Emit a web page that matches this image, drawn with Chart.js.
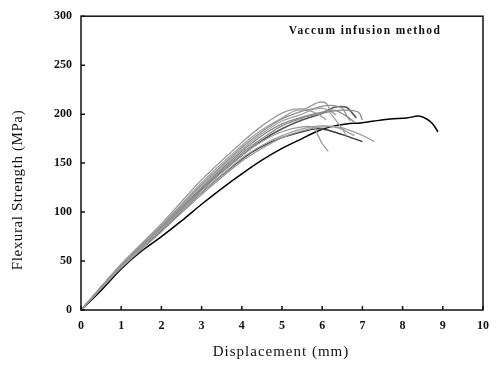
<!DOCTYPE html>
<html>
<head>
<meta charset="utf-8">
<script src="https://cdn.jsdelivr.net/npm/chart.js@4"></script>
<style>
  html, body { margin: 0; padding: 0; background: #fff; }
  #wrap { width: 498px; height: 366px; }
</style>
</head>
<body>
<div id="wrap"><canvas id="flexChart" width="498" height="366"></canvas></div>
<script>
// tick labels
const xTicks = [0, 1, 2, 3, 4, 5, 6, 7, 8, 9, 10];
const yTicks = [0, 50, 100, 150, 200, 250, 300];

// specimen curves: [displacement mm, strength MPa]
const specBlack = [[0,0],[0.5,20],[1,42],[1.5,60],[2,75],[2.5,91],[3,108],[3.5,124],[4,139],[4.5,153],[5,165],[5.5,175],[5.85,182],[6.2,187],[6.6,190],[6.95,191],[7.3,193],[7.7,195],[8.1,196],[8.4,198],[8.6,195],[8.75,190],[8.88,182]];
const specDark1 = [[0,0],[1,45],[2,82],[3,123],[4,158],[4.5,173],[5,185],[5.5,194],[6,201],[6.3,207],[6.6,207],[6.75,201],[6.85,196]];
const specDark2 = [[0,0],[1,44],[2,81],[3,120],[4,154],[4.5,167],[5,176],[5.5,182],[5.85,185],[6.1,184],[6.5,179],[7,172]];
const specGray1 = [[0,0],[1,47],[2,88],[3,133],[4,171],[4.5,188],[5,201],[5.3,205],[5.6,206],[5.9,212],[6.1,211],[6.2,204],[6.35,199]];
const specGray2 = [[0,0],[1,46],[2,86],[3,128],[4,166],[4.5,182],[5,195],[5.5,203],[5.9,207],[6.2,209],[6.5,206],[6.6,199],[6.7,193]];
const specGray3 = [[0,0],[1,45],[2,84],[3,124],[4,160],[4.5,175],[5,188],[5.5,196],[6,201],[6.5,204],[6.9,202],[7,194]];
const specGray4 = [[0,0],[1,44],[2,83],[3,122],[4,158],[4.5,172],[5,182],[5.5,187],[5.8,186],[5.9,178],[6,170],[6.15,162]];
const specGray5 = [[0,0],[1,44],[2,82],[3,120],[4,155],[4.5,168],[5,178],[5.5,185],[6,188],[6.5,186],[6.9,180],[7.3,172]];
const specGray6 = [[0,0],[1,45],[2,84],[3,125],[4,162],[4.5,178],[5,190],[5.5,197],[6,202],[6.3,204],[6.6,198],[6.8,192]];
const specGray7 = [[0,0],[1,46],[2,85],[3,127],[4,164],[4.5,180],[5,193],[5.5,200],[5.8,205],[6.1,205],[6.3,196],[6.5,185],[6.6,178]];
const specGray8 = [[0,0],[1,43],[2,80],[3,118],[4,152],[4.5,165],[5,176],[5.5,183],[6,187],[6.4,186],[6.8,178]];
const specGray9 = [[0,0],[1,46],[2,86],[3,130],[4,168],[4.5,184],[5,196],[5.3,203],[5.6,204],[5.9,200],[6.1,194]];

const caption = "Vaccum infusion method";
const xTitle = "Displacement (mm)";
const yTitle = "Flexural Strength (MPa)";

function toPts(arr) {
  return arr.map(p => ({ x: p[0], y: p[1] }));
}
function curve(arr, color, width) {
  return {
    data: toPts(arr),
    borderColor: color,
    borderWidth: width,
    pointRadius: 0,
    showLine: true,
    tension: 0.3,
    fill: false
  };
}

// box, inner ticks and texts
const decor = {
  id: "decor",
  afterDraw(chart) {
    const ctx = chart.ctx;
    const a = chart.chartArea;
    const xs = chart.scales.x, ys = chart.scales.y;
    ctx.save();
    ctx.strokeStyle = "#111";
    ctx.lineWidth = 1.5;
    ctx.strokeRect(a.left, a.top, a.right - a.left, a.bottom - a.top);
    ctx.beginPath();
    xTicks.forEach(v => {
      const px = xs.getPixelForValue(v);
      ctx.moveTo(px, a.bottom);
      ctx.lineTo(px, a.bottom - 4);
    });
    yTicks.forEach(v => {
      const py = ys.getPixelForValue(v);
      ctx.moveTo(a.left, py);
      ctx.lineTo(a.left + 4, py);
    });
    ctx.stroke();

    ctx.fillStyle = "#111";
    ctx.textAlign = "center";
    ctx.textBaseline = "middle";
    ctx.font = "bold 11.5px 'Liberation Serif'";
    ctx.letterSpacing = "1.4px";
    ctx.fillText(caption, 365, 31);

    ctx.font = "15px 'Liberation Serif'";
    ctx.letterSpacing = "1px";
    ctx.fillText(xTitle, 281, 352);

    ctx.translate(18, 190);
    ctx.rotate(-Math.PI / 2);
    ctx.letterSpacing = "0.6px";
    ctx.fillText(yTitle, 0, 0);
    ctx.restore();
  }
};

new Chart(document.getElementById("flexChart"), {
  type: "scatter",
  data: {
    datasets: [
      curve(specGray8, "#9a9a9a", 1.3),
      curve(specGray5, "#a0a0a0", 1.3),
      curve(specGray4, "#999999", 1.3),
      curve(specGray3, "#8c8c8c", 1.3),
      curve(specGray6, "#8a8a8a", 1.3),
      curve(specGray7, "#a3a3a3", 1.3),
      curve(specGray2, "#909090", 1.3),
      curve(specGray9, "#a5a5a5", 1.3),
      curve(specGray1, "#9d9d9d", 1.3),
      curve(specDark2, "#3a3a3a", 1.4),
      curve(specDark1, "#555555", 1.6),
      curve(specBlack, "#000000", 1.5)
    ]
  },
  options: {
    responsive: false,
    animation: false,
    layout: { padding: { left: 0, top: 14, right: 11, bottom: 0 } },
    plugins: { legend: { display: false }, tooltip: { enabled: false } },
    scales: {
      x: {
        type: "linear",
        min: 0, max: 10,
        afterBuildTicks(s) { s.ticks = xTicks.map(v => ({ value: v })); },
        afterFit(s) { s.height = 56; },
        grid: { display: false, drawTicks: false },
        border: { display: false },
        ticks: { padding: 9, color: "#111", font: { family: "'Liberation Serif'", size: 12, weight: "bold" } }
      },
      y: {
        type: "linear",
        min: 0, max: 300,
        afterBuildTicks(s) { s.ticks = yTicks.map(v => ({ value: v })); },
        afterFit(s) { s.width = 81; },
        grid: { display: false, drawTicks: false },
        border: { display: false },
        ticks: { padding: 9, color: "#111", font: { family: "'Liberation Serif'", size: 12, weight: "bold" } }
      }
    }
  },
  plugins: [decor]
});
</script>
</body>
</html>
